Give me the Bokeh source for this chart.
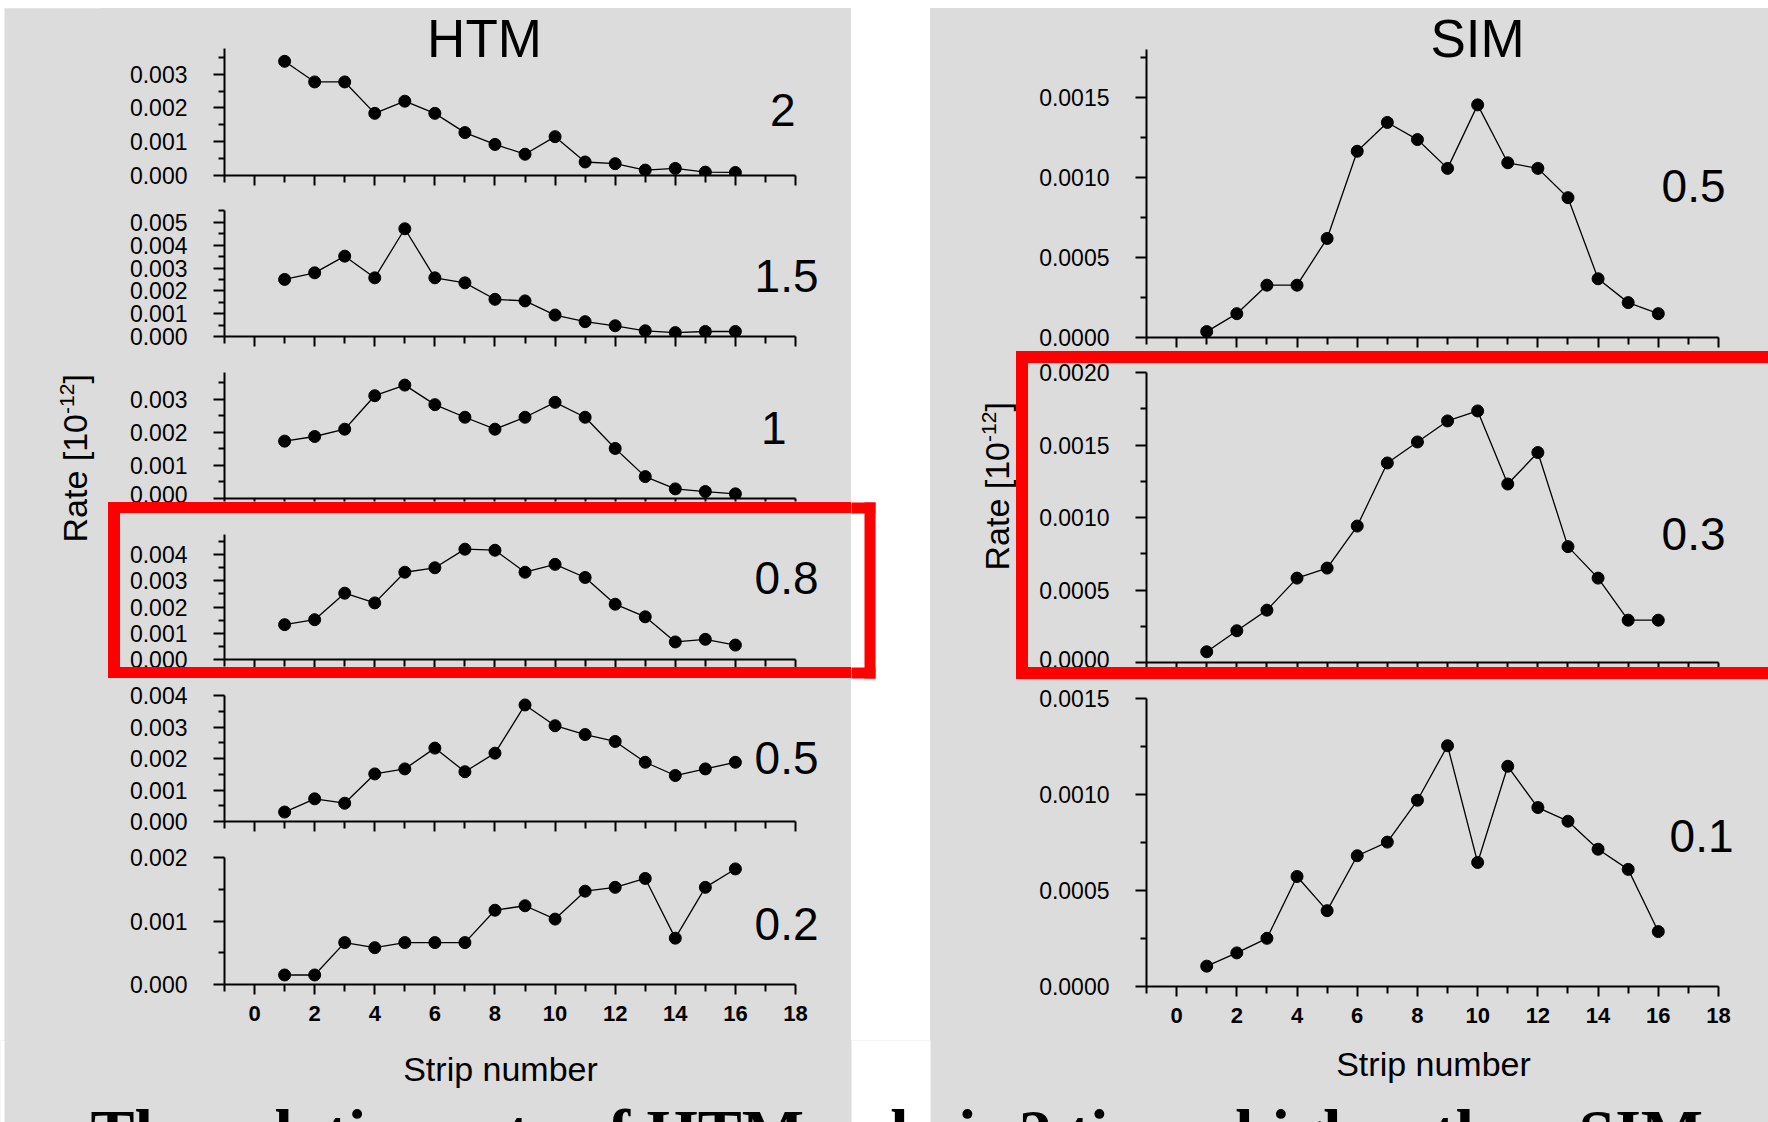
import math
from bokeh.plotting import figure
from bokeh.models import Range1d, FixedTicker, PrintfTickFormatter, Label, Div
from bokeh.layouts import row, column
from bokeh.embed import file_html
from bokeh.resources import INLINE

# ---------------- data ----------------
strips = list(range(1, 17))

htm_2 = [0.00338, 0.00277, 0.00277, 0.00184, 0.00220, 0.00184, 0.00127, 0.00092,
         0.00063, 0.00115, 0.00040, 0.00035, 0.00016, 0.00021, 0.00010, 0.00009]
htm_15 = [0.00250, 0.00279, 0.00352, 0.00257, 0.00472, 0.00257, 0.00235, 0.00163,
          0.00156, 0.00094, 0.00065, 0.00047, 0.00025, 0.00017, 0.00022, 0.00022]
htm_1 = [0.00173, 0.00187, 0.00209, 0.00310, 0.00342, 0.00283, 0.00245, 0.00209,
         0.00245, 0.00290, 0.00245, 0.00151, 0.00066, 0.00029, 0.00021, 0.00014]
htm_08 = [0.00133, 0.00152, 0.00253, 0.00216, 0.00333, 0.00350, 0.00421, 0.00417,
          0.00333, 0.00363, 0.00313, 0.00211, 0.00163, 0.00067, 0.00077, 0.00055]
htm_05 = [0.00030, 0.00072, 0.00058, 0.00151, 0.00167, 0.00233, 0.00158, 0.00217,
          0.00370, 0.00304, 0.00276, 0.00254, 0.00188, 0.00146, 0.00167, 0.00188]
htm_02 = [0.00015, 0.00015, 0.00066, 0.00058, 0.00066, 0.00066, 0.00066, 0.00117,
          0.00124, 0.00103, 0.00147, 0.00153, 0.00167, 0.00073, 0.00153, 0.00182]

sim_05 = [0.000037, 0.000149, 0.000327, 0.000327, 0.000619, 0.001164, 0.001344, 0.001237,
          0.001057, 0.001454, 0.001092, 0.001057, 0.000874, 0.000367, 0.000218, 0.000149]
sim_03 = [0.000074, 0.000219, 0.000361, 0.000582, 0.000651, 0.000941, 0.001376, 0.001521,
          0.001666, 0.001735, 0.001231, 0.001448, 0.000799, 0.000582, 0.000292, 0.000292]
sim_01 = [0.000106, 0.000175, 0.000251, 0.000573, 0.000395, 0.000681, 0.000752, 0.000970,
          0.001254, 0.000646, 0.001147, 0.000932, 0.000861, 0.000715, 0.000610, 0.000286]

htm_series = [htm_2, htm_15, htm_1, htm_08, htm_05, htm_02]
htm_labels = ["2", "1.5", "1", "0.8", "0.5", "0.2"]
htm_ymax = [0.00376, 0.00552, 0.00380, 0.00477, 0.004, 0.002]
htm_ystep = 0.001

sim_series = [sim_05, sim_03, sim_01]
sim_labels = ["0.5", "0.3", "0.1"]
sim_ymax = [0.00180, 0.002, 0.0015]
sim_ystep = 0.0005

x_major = [0, 2, 4, 6, 8, 10, 12, 14, 16, 18]
x_minor = [-1, 1, 3, 5, 7, 9, 11, 13, 15, 17]
x_lo, x_hi = -1, 18

title_left = "HTM"
title_right = "SIM"
x_title = "Strip number"
y_title = "Rate [10"
y_title_sup = "-12"
y_title_end = "]"
bottom_text = "The relative rate of HTM only is 2 times higher than SIM"

# ---------------- layout (page pixels) ----------------
GRAY = "#dcdcdc"
RED = "#ff0000"
FONT = "Liberation Sans"
SERIF = "Liberation Serif"
W, H = 1768, 1122
TOP, MAIN_BOT = 8, 1040

L_X0, L_X1 = 100, 851
L_AX_LEFT, L_AX_RIGHT = 224, 795
R_X0, R_X1 = 1016, 1768
R_STRIP_X0 = 930
R_AX_LEFT, R_AX_RIGHT = 1146, 1718

PANEL_BG = ("linear-gradient(to right, #ffffff 0px, #ffffff 4px, %s 4px, %s %dpx, "
            "#ffffff %dpx, #ffffff %dpx, %s %dpx, %s %dpx)"
            % (GRAY, GRAY, L_X1, L_X1, R_STRIP_X0, GRAY, R_STRIP_X0, GRAY, W))

# subplots: canvas x0, canvas y0, canvas y1, axis-top px, axis-bottom px, x tick out
L_SPEC = [
    (L_X0, 8, 192, 48, 175, 10),
    (L_X0, 192, 352, 210, 336, 10),
    (L_X0, 352, 502, 372, 498, 3),
    (120, 513, 667, 534, 659, 8),
    (L_X0, 678, 840, 695, 821, 10),
    (L_X0, 840, MAIN_BOT, 857, 984, 10),
]
L_VAL_POS = [(795, 109), (818, 275), (786, 427), (818, 577), (818, 757), (818, 923)]

R_SPEC = [
    (R_X0, 8, 351, 49, 337, 10),
    (1028, 363, 667, 372, 662, 5),
    (R_X0, 679, MAIN_BOT, 698, 986, 10),
]
R_VAL_POS = [(1725, 185), (1725, 533), (1733, 835)]


def ticks_for(ymax, step):
    n = int(ymax / step + 1e-6)
    major = [round(k * step, 6) for k in range(n + 1)]
    minor = [round((k + 0.5) * step, 6) for k in range(n + 1) if (k + 0.5) * step <= ymax + 1e-12]
    return major, minor


def subplot(spec, cx1, ax_left, ax_right, values, ymax, step, fmt, bottom_axis):
    cx0, cy0, cy1, ay_top, ay_bot, tick_out = spec
    x_end = x_lo + (x_hi - x_lo) * (cx1 - ax_left) / (ax_right - ax_left)
    y_end = ymax * (ay_bot - cy0) / (ay_bot - ay_top)
    p = figure(width=cx1 - cx0, height=cy1 - cy0,
               x_range=Range1d(x_lo, x_end), y_range=Range1d(0, y_end),
               min_border_left=ax_left - cx0, min_border_right=0,
               min_border_top=0, min_border_bottom=cy1 - ay_bot,
               toolbar_location=None, output_backend="svg",
               background_fill_color=GRAY, border_fill_color=GRAY,
               outline_line_color=None)
    p.extra_x_ranges = {"px": Range1d(ax_left, cx1)}
    p.extra_y_ranges = {"px": Range1d(ay_bot, cy0)}
    p.grid.visible = False
    xa = p.xaxis[0]
    ya = p.yaxis[0]
    for ax in (xa, ya):
        ax.axis_line_width = 2
        ax.axis_line_color = "black"
        ax.major_tick_line_width = 2
        ax.minor_tick_line_width = 2
        ax.major_tick_line_color = "black"
        ax.minor_tick_line_color = "black"
        ax.major_tick_in = 0
        ax.minor_tick_in = 0
        ax.major_label_text_color = "black"
        ax.major_label_text_font = FONT
    xa.bounds = (x_lo, x_hi)
    xa.ticker = FixedTicker(ticks=x_major, minor_ticks=x_minor)
    xa.major_tick_out = tick_out
    xa.minor_tick_out = min(tick_out, 7)
    if bottom_axis:
        xa.major_label_text_font_size = "22px"
        xa.major_label_text_font_style = "bold"
        xa.major_label_standoff = 11
    else:
        xa.major_label_overrides = {t: "" for t in x_major}
        xa.major_label_text_font_size = "1px"
        xa.major_label_standoff = 0
    major, minor = ticks_for(ymax, step)
    ya.bounds = (0, ymax)
    ya.ticker = FixedTicker(ticks=major, minor_ticks=minor)
    ya.formatter = PrintfTickFormatter(format=fmt)
    ya.major_tick_out = 11
    ya.minor_tick_out = 6
    ya.major_label_standoff = 26
    ya.major_label_text_font_size = "23px"

    p.line(strips, values, line_color="black", line_width=1.3)
    p.scatter(strips, values, size=12, color="black")
    return p


def plabel(p, x, y, text, size, align="center", baseline="middle", angle=0.0,
           font=FONT, style="normal"):
    p.add_layout(Label(x=x, y=y, text=text, x_range_name="px", y_range_name="px",
                       text_align=align, text_baseline=baseline, angle=angle,
                       text_font=font, text_font_size=size, text_font_style=style,
                       text_color="black"))


def rate_label(p, x_mid, y_start):
    plabel(p, x_mid, y_start, y_title, "34px", align="left", angle=math.pi / 2)
    w_main = 128.5
    plabel(p, x_mid - 8, y_start - w_main, y_title_sup, "21px", align="left", angle=math.pi / 2)
    plabel(p, x_mid, y_start - w_main - 30.5, y_title_end, "34px", align="left", angle=math.pi / 2)


def decor(cx, cy, bg, boxes=()):
    p = figure(width=cx[1] - cx[0], height=cy[1] - cy[0],
               x_range=Range1d(cx[0], cx[1]), y_range=Range1d(cy[1], cy[0]),
               min_border=0, toolbar_location=None, output_backend="svg",
               x_axis_location=None, y_axis_location=None,
               background_fill_color=bg, border_fill_color=bg, outline_line_color=None)
    p.extra_x_ranges = {"px": Range1d(cx[0], cx[1])}
    p.extra_y_ranges = {"px": Range1d(cy[1], cy[0])}
    p.grid.visible = False
    pad = 6
    for (x0, x1, y0, y1, col) in boxes:
        # boxes touching the canvas edge are extended past it to avoid seams
        l = x0 - pad if x0 <= cx[0] else x0
        r = x1 + pad if x1 >= cx[1] else x1
        t = y0 - pad if y0 <= cy[0] else y0
        b = y1 + pad if y1 >= cy[1] else y1
        p.quad(left=[l], right=[r], top=[t], bottom=[b], fill_color=col, line_color=None)
    return p


def block(w, h, color):
    return Div(text="", width=w, height=h, margin=(0, 0, 0, 0),
               styles={"background-color": color})


def bar_row(parts, h):
    return row(*[block(w, h, c) for (w, c) in parts], spacing=0)


# red frames (outer edges)
RL = (108, 502, 875, 678)
RR = (1016, 351, 1800, 679)

# ---------------- left panel ----------------
left_figs = []
for i, vals in enumerate(htm_series):
    p = subplot(L_SPEC[i], L_X1, L_AX_LEFT, L_AX_RIGHT, vals, htm_ymax[i], htm_ystep,
                "%.3f", i == len(htm_series) - 1)
    vx, vy = L_VAL_POS[i]
    plabel(p, vx, vy, htm_labels[i], "46px", align="right")
    left_figs.append(p)
plabel(left_figs[0], 484, 38, title_left, "53px")

red_top_L = bar_row([(RL[0] - L_X0, GRAY), (L_X1 - RL[0], RED)], 513 - 502)
red_left_L = bar_row([(RL[0] - L_X0, GRAY), (120 - RL[0], RED)], 667 - 513)
red_bot_L = bar_row([(RL[0] - L_X0, GRAY), (L_X1 - RL[0], RED)], 678 - 667)

col_left = column(left_figs[0], left_figs[1], left_figs[2], red_top_L,
                  row(red_left_L, left_figs[3], spacing=0, styles={"background-color": GRAY}),
                  red_bot_L, left_figs[4], left_figs[5],
                  spacing=0, styles={"background-color": GRAY})

rate_strip_L = decor((0, L_X0), (TOP, MAIN_BOT), "white", [(4, L_X0, TOP, MAIN_BOT, GRAY)])
rate_label(rate_strip_L, 74, 542)

gap = decor((L_X1, R_STRIP_X0), (TOP, MAIN_BOT), "white",
            [(L_X1, RL[2], RL[1], RL[1] + 11, RED),
             (RL[2] - 11, RL[2], RL[1], RL[3], RED),
             (L_X1, RL[2], RL[3] - 11, RL[3], RED)])

# ---------------- right panel ----------------
right_figs = []
for i, vals in enumerate(sim_series):
    p = subplot(R_SPEC[i], R_X1, R_AX_LEFT, R_AX_RIGHT, vals, sim_ymax[i], sim_ystep,
                "%.4f", i == len(sim_series) - 1)
    vx, vy = R_VAL_POS[i]
    plabel(p, vx, vy, sim_labels[i], "46px", align="right")
    right_figs.append(p)
plabel(right_figs[0], 1477, 38, title_right, "53px")

rate_strip_R = decor((R_STRIP_X0, R_X0), (TOP, MAIN_BOT), GRAY)
rate_label(rate_strip_R, 996, 570)

red_top_R = block(R_X1 - R_X0, 363 - 351, RED)
red_left_R = block(1028 - R_X0, 667 - 363, RED)
red_bot_R = block(R_X1 - R_X0, 679 - 667, RED)

col_right = column(right_figs[0], red_top_R,
                   row(red_left_R, right_figs[1], spacing=0, styles={"background-color": GRAY}),
                   red_bot_R, right_figs[2],
                   spacing=0, styles={"background-color": GRAY})

# ---------------- top / bottom strips ----------------
top_strip = block(W, TOP, "#ffffff")
bottom = decor((0, W), (MAIN_BOT, H), GRAY,
               [(0, 4, MAIN_BOT, H, "white"), (L_X1, R_STRIP_X0, MAIN_BOT, H, "white")])
plabel(bottom, 500, 1068, x_title, "34px")
plabel(bottom, 1433, 1063, x_title, "34px")
plabel(bottom, 90, 1095, bottom_text, "66px", align="left", baseline="top",
       font=SERIF, style="bold")

main_row = row(rate_strip_L, col_left, gap, rate_strip_R, col_right, spacing=0,
               styles={"background": PANEL_BG})
bottom_wrap = column(bottom, spacing=0, styles={"background": PANEL_BG})

page = column(top_strip, main_row, bottom_wrap, spacing=0)

open("out.html", "w").write(file_html(page, INLINE))
